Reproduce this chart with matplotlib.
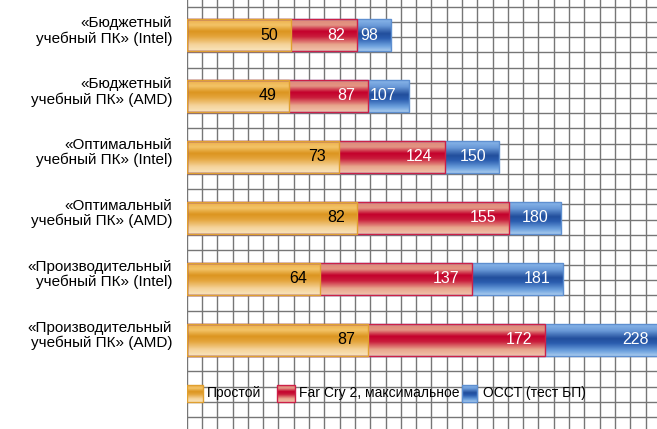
import numpy as np
import matplotlib
matplotlib.use("Agg")
import matplotlib.pyplot as plt
from matplotlib.colors import LinearSegmentedColormap
from matplotlib.patches import Rectangle

plt.rcParams['font.family'] = ['Liberation Sans', 'DejaVu Sans']

# данные: значения накопительные (сегмент рисуется от нуля до значения)
categories = [
    "«Бюджетный\nучебный ПК» (Intel)",
    "«Бюджетный\nучебный ПК» (AMD)",
    "«Оптимальный\nучебный ПК» (Intel)",
    "«Оптимальный\nучебный ПК» (AMD)",
    "«Производительный\nучебный ПК» (Intel)",
    "«Производительный\nучебный ПК» (AMD)",
]
idle = [50, 49, 73, 82, 64, 87]
farcry = [82, 87, 124, 155, 137, 172]
occt = [98, 107, 150, 180, 181, 228]
series_names = ["Простой", "Far Cry 2, максимальное", "OCCT (тест БП)"]

# градиенты сверху вниз
grad_orange = LinearSegmentedColormap.from_list("o", [
    (0, "#eeae48"), (0.18, "#f3c468"), (0.38, "#dc9520"), (0.55, "#e4a53c"),
    (0.8, "#f5d39a"), (1, "#f9e4bc")])
grad_red = LinearSegmentedColormap.from_list("r", [
    (0, "#e08878"), (0.18, "#e39584"), (0.38, "#c4002c"), (0.55, "#c91c3b"),
    (0.8, "#e8a58c"), (1, "#f2c2aa")])
grad_blue = LinearSegmentedColormap.from_list("b", [
    (0, "#8ab6ea"), (0.2, "#6a9ad8"), (0.45, "#224e9c"), (0.6, "#2a5cae"),
    (0.85, "#6ea2de"), (1, "#a8caee")])

styles = [
    (occt, grad_blue, "#5e8fd0", "white"),
    (farcry, grad_red, "#cc2048", "white"),
    (idle, grad_orange, "#e0a030", "black"),
]

W, H = 657, 429
fig = plt.figure(figsize=(W / 100, H / 100), dpi=100)
left_px = 186.7
ax = fig.add_axes([left_px / W, 0, 1 - left_px / W, 1])

y = np.arange(len(categories))
XMAX = 226
YLIM = (5 + 1.46, -0.574)

# сетка-фон
ax.set_xticks(np.arange(0, 230, 7.35))
ax.set_yticks(np.arange(6.262, -0.6, -0.249))
ax.grid(True, color="#767676", linewidth=1.0)
ax.tick_params(length=0, labelbottom=False, labelleft=False)
for s in ax.spines.values():
    s.set_visible(False)
ax.set_axisbelow(True)

grad = np.linspace(0, 1, 64).reshape(-1, 1)

for vals, cmap, edge, tcol in styles:
    bars = ax.barh(y, vals, height=0.51, color="none", edgecolor=edge,
                   linewidth=1.0, zorder=3)
    for bar, v in zip(bars, vals):
        x0, yc = bar.get_x(), bar.get_y()
        w, h = bar.get_width(), bar.get_height()
        im = ax.imshow(grad, cmap=cmap, aspect="auto", origin="upper",
                       extent=(x0, x0 + w, yc + h, yc), zorder=2.5,
                       interpolation="bilinear")
        im.set_clip_path(bar)
        ax.annotate(str(v), (v, yc + h / 2), xytext=(-9, 0),
                    textcoords="offset points", ha="right", va="center",
                    fontsize=11.5, color=tcol, zorder=4, annotation_clip=False)

ax.set_xlim(0, XMAX)
ax.set_ylim(*YLIM)

# подписи категорий
for yi, lab in zip(y, categories):
    ax.annotate(lab, (0, yi - 0.07), xytext=(-10.5, 0), textcoords="offset points",
                ha="right", va="center", fontsize=11, linespacing=1.1,
                annotation_clip=False)

# легенда
def ax_x(px):
    return (px - left_px) / (W - left_px)

def ax_y(py):
    return 1 - py / H

legend_items = [(187, 203, 207, grad_orange, "#e0a030"),
                (277, 295, 299, grad_red, "#cc2048"),
                (462, 477, 483, grad_blue, "#5e8fd0")]
for (x0, x1, tx, cmap, edge), name in zip(legend_items, series_names):
    ext = (ax_x(x0), ax_x(x1), ax_y(402), ax_y(385))
    ax.imshow(grad, cmap=cmap, aspect="auto", origin="upper", extent=ext,
              transform=ax.transAxes, zorder=5, interpolation="bilinear")
    r = Rectangle((ext[0], ext[2]), ext[1] - ext[0], ext[3] - ext[2],
                  transform=ax.transAxes, fill=False, edgecolor=edge,
                  linewidth=1.0, zorder=6)
    ax.add_patch(r)
    ax.text(ax_x(tx), ax_y(393.5), name, transform=ax.transAxes, ha="left",
            va="center", fontsize=10, color="black", zorder=6)

ax.set_xlim(0, XMAX)
ax.set_ylim(*YLIM)

fig.savefig("out.png", dpi=100)
